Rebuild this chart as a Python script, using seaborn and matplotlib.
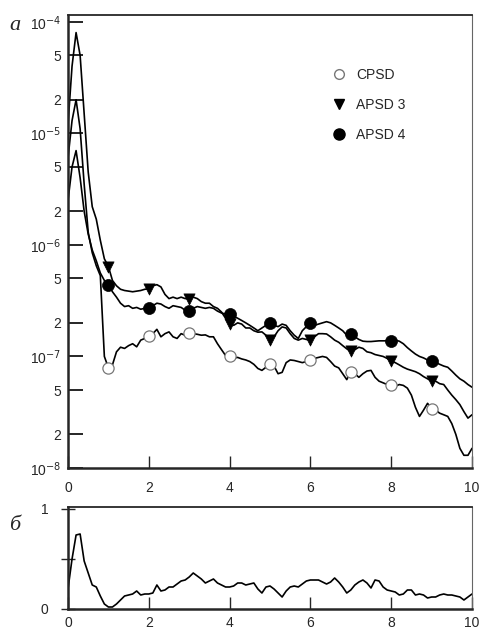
import numpy as np
import pandas as pd
import matplotlib
matplotlib.use("Agg")
import matplotlib.pyplot as plt
from matplotlib.lines import Line2D
from matplotlib.ticker import FixedLocator, NullLocator
import seaborn as sns

# frequency grid (0..10, step 0.1)
freq = np.round(np.arange(0, 10.01, 0.1), 1)

# spectra, in units of 1e-7
cpsd = [60, 130, 200, 110, 35, 13, 8.5, 6.5, 5.3, 1.0,
        0.79, 0.84, 1.1, 1.21, 1.18, 1.25, 1.3, 1.22, 1.4, 1.45,
        1.52, 1.6, 1.75, 1.5, 1.6, 1.66, 1.5, 1.45, 1.6, 1.55,
        1.62, 1.6, 1.58, 1.55, 1.56, 1.5, 1.5, 1.3, 1.15, 1.02,
        1.0, 0.97, 0.98, 0.95, 0.93, 0.9, 0.85, 0.78, 0.75, 0.8,
        0.85, 0.82, 0.7, 0.72, 0.88, 0.93, 0.92, 0.9, 0.88, 0.9,
        0.93, 0.96, 0.98, 1.0, 0.98, 0.9, 0.82, 0.79, 0.7, 0.62,
        0.73, 0.7, 0.65, 0.7, 0.74, 0.75, 0.65, 0.6, 0.58, 0.56,
        0.55, 0.54, 0.56, 0.55, 0.52, 0.45, 0.35, 0.29, 0.33, 0.38,
        0.34, 0.33, 0.31, 0.3, 0.29, 0.25, 0.2, 0.15, 0.13, 0.13,
        0.15]
apsd3 = [120, 400, 800, 500, 150, 45, 22, 17, 11, 7.5,
         6.4, 4.8, 4.3, 4.0, 3.9, 3.85, 3.8, 3.85, 3.9, 4.0,
         4.05, 4.3, 4.4, 4.2, 3.6, 3.3, 3.4, 3.3, 3.4, 3.3,
         3.3, 3.4, 3.3, 3.1, 3.0, 3.0, 2.8, 2.7, 2.5, 2.2,
         1.95, 1.9, 2.0, 1.95, 1.8, 1.8, 1.7, 1.65, 1.66, 1.55,
         1.4, 1.5, 1.7, 1.84, 1.8, 1.6, 1.45, 1.4, 1.45, 1.42,
         1.4, 1.5, 1.6, 1.6, 1.59, 1.5, 1.4, 1.34, 1.25, 1.17,
         1.11, 1.15, 1.21, 1.18, 1.1, 1.08, 1.04, 1.02, 1.0, 0.96,
         0.91, 0.88, 0.84, 0.8, 0.77, 0.75, 0.73, 0.7, 0.66, 0.63,
         0.6, 0.6, 0.57, 0.56, 0.5, 0.45, 0.41, 0.37, 0.32, 0.28,
         0.3]
apsd4 = [25, 50, 70, 40, 20, 12.5, 9, 7.2, 5.6, 4.8,
         4.4, 3.8, 3.4, 3.0, 2.8, 2.85, 2.7, 2.75, 2.65, 2.7,
         2.74, 2.85, 3.0, 2.95, 2.8, 2.7, 2.85, 2.8, 2.75, 2.6,
         2.56, 2.7, 2.8, 2.75, 2.7, 2.75, 2.7, 2.55, 2.45, 2.4,
         2.41, 2.3, 2.2, 2.1, 2.0, 1.9, 1.8, 1.7, 1.8, 1.9,
         1.98, 1.9, 1.85, 1.95, 1.9, 1.7, 1.55, 1.45, 1.7, 1.85,
         1.98, 1.9, 1.95, 2.0, 2.05, 2.0, 1.9, 1.8, 1.7, 1.55,
         1.59, 1.5, 1.42, 1.37, 1.36, 1.36, 1.37, 1.38, 1.38, 1.38,
         1.37, 1.4, 1.37, 1.3, 1.2, 1.12, 1.05, 1.0, 0.97, 0.93,
         0.91, 0.88, 0.85, 0.82, 0.8, 0.74, 0.68, 0.63, 0.6, 0.56,
         0.53]
# coherence (panel б)
coherence = [0.2, 0.5, 0.74, 0.75, 0.48, 0.36, 0.24, 0.22, 0.13, 0.05,
             0.02, 0.02, 0.05, 0.09, 0.13, 0.14, 0.15, 0.18, 0.14, 0.15,
             0.15, 0.16, 0.24, 0.18, 0.19, 0.22, 0.22, 0.25, 0.28, 0.29,
             0.32, 0.36, 0.33, 0.3, 0.26, 0.28, 0.3, 0.26, 0.24, 0.22,
             0.22, 0.23, 0.26, 0.26, 0.24, 0.25, 0.26, 0.2, 0.16, 0.22,
             0.23, 0.2, 0.16, 0.12, 0.18, 0.22, 0.23, 0.22, 0.25, 0.28,
             0.29, 0.29, 0.29, 0.27, 0.25, 0.27, 0.31, 0.27, 0.22, 0.16,
             0.19, 0.24, 0.27, 0.29, 0.26, 0.21, 0.29, 0.28, 0.22, 0.19,
             0.18, 0.17, 0.14, 0.15, 0.19, 0.19, 0.14, 0.15, 0.14, 0.11,
             0.12, 0.12, 0.14, 0.15, 0.14, 0.14, 0.13, 0.12, 0.09, 0.12,
             0.15]

series_names = ["CPSD", "APSD 3", "APSD 4"]
marker_freqs = [1, 2, 3, 4, 5, 6, 7, 8, 9]
x_ticks = [0, 2, 4, 6, 8, 10]

sns.set_style("ticks")
plt.rcParams["font.family"] = ["Liberation Sans", "DejaVu Sans"]

scale = 1e-7
df = pd.DataFrame({
    "f": np.tile(freq, 3),
    "S": np.concatenate([np.array(cpsd), np.array(apsd3), np.array(apsd4)]) * scale,
    "series": np.repeat(series_names, len(freq)),
})
mk = df[df["f"].isin(marker_freqs)]
coh = pd.DataFrame({"f": freq, "g": coherence})

fig = plt.figure(figsize=(4.8, 6.33), dpi=100)
L, R = 68, 472
ax = fig.add_axes([L/480, 1-468/633, (R-L)/480, 453/633])
ax2 = fig.add_axes([L/480, 1-609/633, (R-L)/480, 102/633])

black = {n: "black" for n in series_names}
sns.lineplot(data=df, x="f", y="S", hue="series", palette=black, ax=ax,
             legend=False, linewidth=1.2, estimator=None, sort=False)
styles = {
    "CPSD": dict(marker="o", facecolor="white", edgecolor="#777777", s=65, linewidth=0.9),
    "APSD 3": dict(marker="v", facecolor="black", edgecolor="black", s=65, linewidth=0.5),
    "APSD 4": dict(marker="o", facecolor="black", edgecolor="black", s=75, linewidth=0.5),
}
for name in series_names:
    sub = mk[mk["series"] == name]
    st = styles[name]
    sns.scatterplot(data=sub, x="f", y="S", ax=ax, marker=st["marker"],
                    color=st["facecolor"], edgecolor=st["edgecolor"],
                    s=st["s"], linewidth=st["linewidth"], zorder=5, legend=False)

ax.set_yscale("log")
ax.set_xlim(0, 10)
ax.set_ylim(1e-8, 1.15e-4)
yt = [1e-8, 2e-8, 5e-8, 1e-7, 2e-7, 5e-7, 1e-6, 2e-6, 5e-6,
      1e-5, 2e-5, 5e-5, 1e-4]
ylab = []
for v in yt:
    e = int(np.floor(np.log10(v) + 1e-9))
    m = v / 10**e
    ylab.append(r"10$^{%d}$" % e if abs(m - 1) < 1e-6 else "%d" % round(m))
ax.yaxis.set_major_locator(FixedLocator(yt))
ax.yaxis.set_minor_locator(NullLocator())
ax.set_yticklabels(ylab)
ax.set_xticks(x_ticks)
ax.set_xticklabels([str(t) for t in x_ticks])
ax.set_xlabel("")
ax.set_ylabel("")
ax.tick_params(axis="y", direction="in", length=11, width=1.4, labelsize=10, pad=5)
ax.tick_params(axis="x", direction="in", length=9, width=1.0, labelsize=10, pad=9)

sns.lineplot(data=coh, x="f", y="g", ax=ax2, color="black", linewidth=1.2,
             estimator=None, sort=False)
ax2.set_xlim(0, 10)
ax2.set_ylim(0, 1.02)
ax2.set_yticks([0, 0.5, 1])
ax2.set_yticklabels(["0", "", "1"])
ax2.set_xticks(x_ticks)
ax2.set_xticklabels([str(t) for t in x_ticks])
ax2.set_xlabel("")
ax2.set_ylabel("")
ax2.tick_params(axis="y", direction="inout", length=10, width=1.0, labelsize=10, pad=9)
ax2.tick_params(axis="x", direction="in", length=9, width=1.0, labelsize=10, pad=5)

for a in (ax, ax2):
    for side in ("left", "bottom"):
        a.spines[side].set_linewidth(1.8)
        a.spines[side].set_visible(True)
    a.spines["top"].set_visible(True)
    a.spines["top"].set_linewidth(1.3)
    a.spines["right"].set_visible(True)
    a.spines["right"].set_linewidth(0.8)
    a.spines["right"].set_color("#666666")

handles = [
    Line2D([], [], linestyle="none", marker="o", markerfacecolor="white",
           markeredgecolor="#777777", markersize=7),
    Line2D([], [], linestyle="none", marker="v", markerfacecolor="black",
           markeredgecolor="black", markersize=7),
    Line2D([], [], linestyle="none", marker="o", markerfacecolor="black",
           markeredgecolor="black", markersize=8),
]
ax.legend(handles, series_names, loc="upper left", bbox_to_anchor=(0.62, 0.91),
          frameon=False, fontsize=10, labelspacing=1.15, handletextpad=0.6,
          handlelength=1.2)

fig.text(9/480, 1-25/633, "а", fontsize=16, style="italic",
         family=["Liberation Serif", "DejaVu Serif"], ha="left", va="center")
fig.text(9/480, 1-525/633, "б", fontsize=16, style="italic",
         family=["Liberation Serif", "DejaVu Serif"], ha="left", va="center")

fig.savefig("out.png", dpi=100)
